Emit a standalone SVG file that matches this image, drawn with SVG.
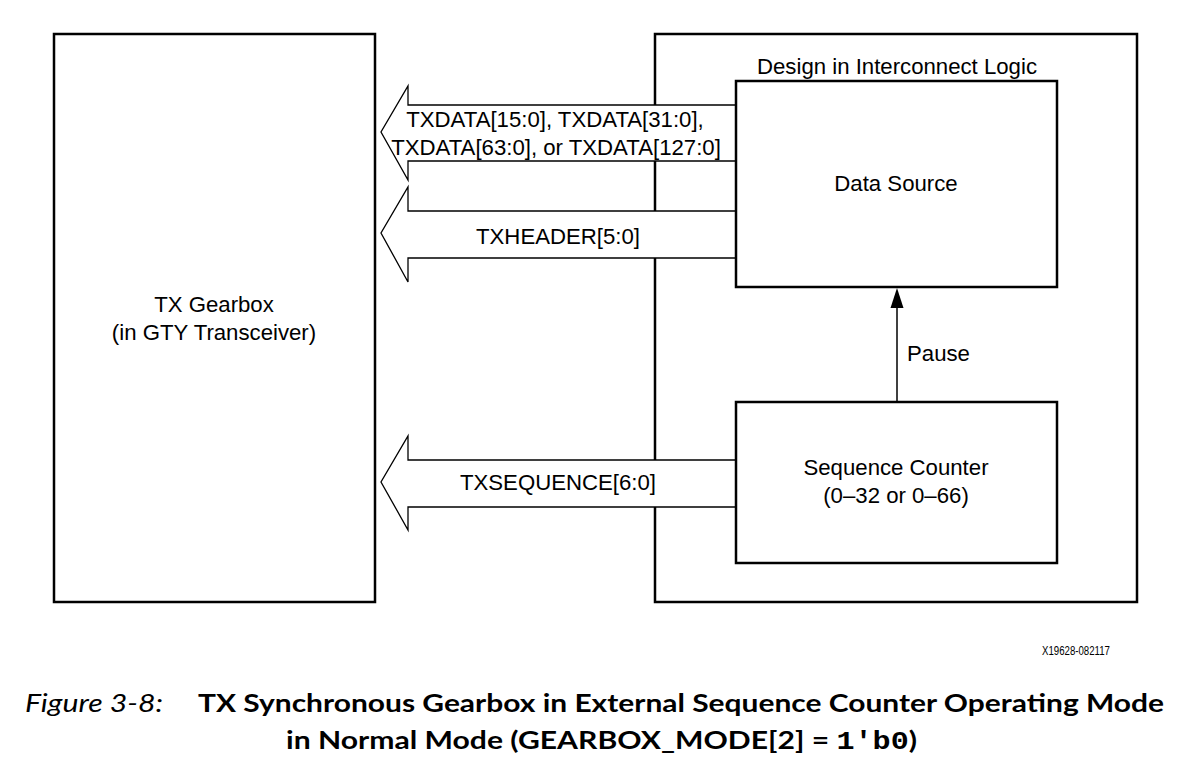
<svg xmlns="http://www.w3.org/2000/svg" width="1187" height="766" viewBox="0 0 1187 766">
<style>
.box{fill:#fff;stroke:#000;stroke-width:2.5}
.bus{fill:#fff;stroke:#000;stroke-width:1.3;stroke-linejoin:miter}
.t{font-family:"Liberation Sans",Arial,sans-serif;font-size:22.2px;fill:#000}
.c{text-anchor:middle}
.cap{font-family:Lato,"Open Sans",sans-serif;font-size:25px;fill:#000}
</style>
<rect width="1187" height="766" fill="#fff"/>
<g id="tx-gearbox">
<rect class="box" x="54" y="34" width="321" height="568"/>
<text class="t c" x="214" y="312">TX Gearbox</text>
<text class="t c" x="214" y="340">(in GTY Transceiver)</text>
</g>
<g id="interconnect-logic">
<rect class="box" x="655" y="34" width="482" height="568"/>
<text class="t c" x="897" y="74">Design in Interconnect Logic</text>
</g>
<g id="connectors">
<path class="bus" d="M736,105 L408,105 L408,86 L381,132 L408,180 L408,161 L736,161"/>
<path class="bus" d="M736,211 L408,211 L408,187 L381,233 L408,282 L408,258 L736,258"/>
<path class="bus" d="M736,460 L408,460 L408,436 L381,482 L408,530 L408,507 L736,507"/>
<line x1="897" y1="402" x2="897" y2="303" stroke="#000" stroke-width="1.5"/>
<path d="M897,288 L903.5,308 L890.5,308 Z" fill="#000"/>
<text class="t c" x="555" y="127">TXDATA[15:0], TXDATA[31:0],</text>
<text class="t c" x="556" y="155">TXDATA[63:0], or TXDATA[127:0]</text>
<text class="t c" x="558" y="244">TXHEADER[5:0]</text>
<text class="t c" x="558" y="490">TXSEQUENCE[6:0]</text>
<text class="t" x="907" y="361">Pause</text>
</g>
<g id="data-source">
<rect class="box" x="736" y="81" width="321" height="206"/>
<text class="t c" x="896" y="191">Data Source</text>
</g>
<g id="sequence-counter">
<rect class="box" x="736" y="402" width="321" height="161"/>
<text class="t c" x="896" y="475">Sequence Counter</text>
<text class="t c" x="896" y="503">(0–32 or 0–66)</text>
</g>
<g id="caption">
<text x="1110" y="655" text-anchor="end" font-family="'Liberation Sans',Arial,sans-serif" font-size="12" textLength="68" lengthAdjust="spacingAndGlyphs">X19628-082117</text>
<text class="cap" x="25" y="712" font-style="italic" textLength="138" lengthAdjust="spacingAndGlyphs">Figure 3-8:</text>
<text class="cap" x="198" y="712" font-weight="bold" textLength="966" lengthAdjust="spacingAndGlyphs">TX Synchronous Gearbox in External Sequence Counter Operating Mode</text>
<text class="cap" x="286" y="749" font-weight="bold" textLength="631" lengthAdjust="spacingAndGlyphs">in Normal Mode (GEARBOX_MODE[2] = <tspan font-family="'Liberation Mono',monospace">1'b0</tspan>)</text>
</g>
</svg>
